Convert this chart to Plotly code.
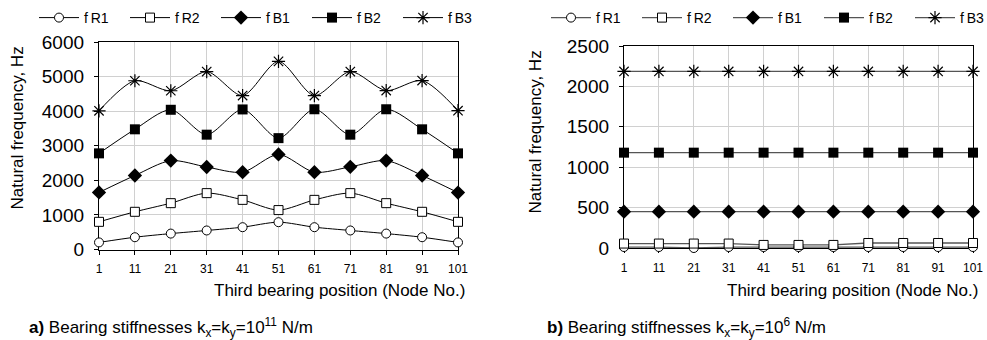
import plotly.graph_objects as go

nodes = [1, 11, 21, 31, 41, 51, 61, 71, 81, 91, 101]
series_names = ["f\u2009R1", "f\u2009R2", "f\u2009B1", "f\u2009B2", "f\u2009B3"]

# a) kx=ky=1e11 N/m
a_fR1 = [205, 355, 460, 550, 645, 790, 645, 550, 460, 355, 205]
a_fR2 = [800, 1090, 1340, 1630, 1435, 1140, 1435, 1630, 1340, 1090, 800]
a_fB1 = [1650, 2140, 2570, 2385, 2235, 2750, 2235, 2390, 2570, 2140, 1645]
a_fB2 = [2780, 3475, 4040, 3320, 4050, 3220, 4055, 3320, 4055, 3475, 2780]
a_fB3 = [4010, 4880, 4590, 5145, 4450, 5440, 4450, 5145, 4595, 4885, 4015]

# b) kx=ky=1e6 N/m
b_fR1 = [12, 12, 0, 12, 12, 12, 12, 12, 12, 12, 12]
b_fR2 = [55, 55, 55, 55, 38, 38, 38, 62, 62, 62, 62]
b_fB1 = [450, 450, 450, 450, 450, 450, 450, 450, 450, 450, 450]
b_fB2 = [1180, 1180, 1180, 1180, 1180, 1180, 1180, 1180, 1180, 1180, 1180]
b_fB3 = [2185, 2185, 2185, 2185, 2185, 2185, 2185, 2185, 2185, 2185, 2185]

FONT = "Arial, Liberation Sans, sans-serif"

markers = [
    dict(symbol="circle", size=9, color="white", line=dict(color="black", width=1)),
    dict(symbol="square", size=9, color="white", line=dict(color="black", width=1)),
    dict(symbol="diamond", size=11, color="black", line=dict(color="black", width=0)),
    dict(symbol="square", size=10, color="black", line=dict(color="black", width=0)),
    dict(symbol="asterisk-open", size=11, color="black", line=dict(color="black", width=1.2)),
]

fig = go.Figure()

a_data = [a_fR1, a_fR2, a_fB1, a_fB2, a_fB3]
b_data = [b_fR1, b_fR2, b_fB1, b_fB2, b_fB3]

for name, ys, mk in zip(series_names, a_data, markers):
    fig.add_trace(go.Scatter(
        x=nodes, y=ys, name=name, mode="lines+markers",
        line=dict(color="black", width=1, shape="spline", smoothing=0.8),
        marker=mk, cliponaxis=False, xaxis="x", yaxis="y", legend="legend"))

for name, ys, mk in zip(series_names, b_data, markers):
    fig.add_trace(go.Scatter(
        x=nodes, y=ys, name=name, mode="lines+markers",
        line=dict(color="#555555", width=1.3),
        marker=mk, cliponaxis=False, xaxis="x2", yaxis="y2", legend="legend2"))

W, H = 987, 340

def axis_common():
    return dict(showline=True, linecolor="black", linewidth=1.3, mirror=True,
                showgrid=True, gridcolor="#d0d0d0", gridwidth=1,
                ticks="outside", ticklen=4, tickcolor="black", zeroline=False,
                layer="below traces", automargin=False)

xa = axis_common()
xa.update(domain=[99 / W, 458 / W], range=[1, 101], tickvals=nodes, ticklabelstandoff=4,
          tickfont=dict(family=FONT, size=12, color="black"), anchor="y")
ya = axis_common()
ya.update(domain=[(H - 249.5) / H, (H - 42) / H], range=[0, 6000], dtick=1000,
          ticklabelstandoff=6,
          tickfont=dict(family=FONT, size=19, color="black"), anchor="x")
xb = axis_common()
xb.update(domain=[624 / W, 973 / W], range=[1, 101], tickvals=nodes, ticklabelstandoff=4,
          tickfont=dict(family=FONT, size=12, color="black"), anchor="y2")
yb = axis_common()
yb.update(domain=[(H - 248) / H, (H - 46) / H], range=[0, 2500], dtick=500,
          ticklabelstandoff=6,
          tickfont=dict(family=FONT, size=19, color="black"), anchor="x2")

legend_common = dict(orientation="h", yanchor="middle", xanchor="left",
                     font=dict(family=FONT, size=14, color="black"),
                     itemwidth=40, entrywidth=36, entrywidthmode="pixels",
                     bgcolor="rgba(0,0,0,0)", tracegroupgap=0, itemclick=False)

l1 = dict(legend_common); l1.update(x=34 / W, y=(H - 18) / H)
l2 = dict(legend_common); l2.update(x=546 / W, y=(H - 18) / H)

annotations = [
    dict(text="Natural frequency, Hz", x=17 / W, y=(H - 128.5) / H, xref="paper", yref="paper",
         textangle=-90, showarrow=False, font=dict(family=FONT, size=17, color="black"),
         xanchor="center", yanchor="middle"),
    dict(text="Natural frequency, Hz", x=535.5 / W, y=(H - 132) / H, xref="paper", yref="paper",
         textangle=-90, showarrow=False, font=dict(family=FONT, size=17, color="black"),
         xanchor="center", yanchor="middle"),
    dict(text="Third bearing position (Node No.)", x=467 / W, y=(H - 290) / H, xref="paper", yref="paper",
         showarrow=False, font=dict(family=FONT, size=17, color="black"),
         xanchor="right", yanchor="middle"),
    dict(text="Third bearing position (Node No.)", x=980 / W, y=(H - 290) / H, xref="paper", yref="paper",
         showarrow=False, font=dict(family=FONT, size=17, color="black"),
         xanchor="right", yanchor="middle"),
    dict(text="<b>a)</b> Bearing stiffnesses k<sub>x</sub>=k<sub>y</sub>=10<sup>11</sup> N/m",
         x=27 / W, y=(H - 327) / H, xref="paper", yref="paper",
         showarrow=False, font=dict(family=FONT, size=17, color="black"),
         xanchor="left", yanchor="middle"),
    dict(text="<b>b)</b> Bearing stiffnesses k<sub>x</sub>=k<sub>y</sub>=10<sup>6</sup> N/m",
         x=545 / W, y=(H - 327) / H, xref="paper", yref="paper",
         showarrow=False, font=dict(family=FONT, size=17, color="black"),
         xanchor="left", yanchor="middle"),
]

fig.update_layout(
    width=W, height=H, margin=dict(l=0, r=0, t=0, b=0, pad=0, autoexpand=False),
    paper_bgcolor="white", plot_bgcolor="white",
    font=dict(family=FONT, color="black"),
    xaxis=xa, yaxis=ya, xaxis2=xb, yaxis2=yb,
    legend=l1, legend2=l2, annotations=annotations,
    showlegend=True,
)

fig.write_html("out.html")
